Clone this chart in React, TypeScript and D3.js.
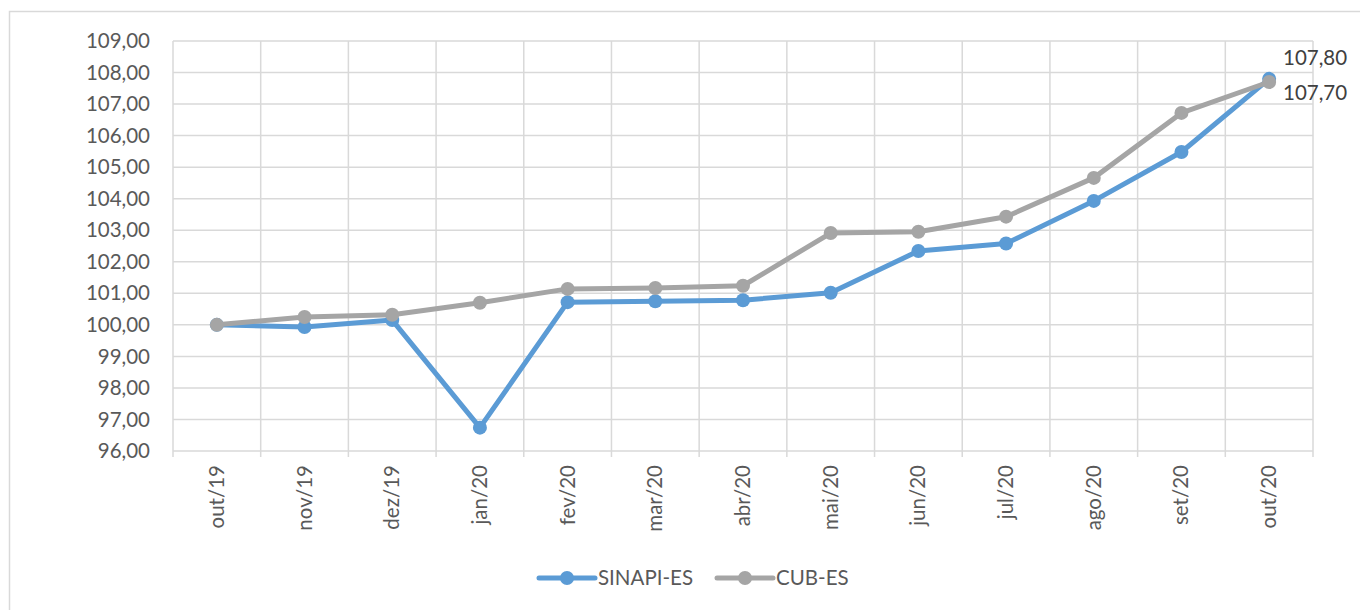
import React from "react";
import * as d3 from "d3";

const categories = ["out/19","nov/19","dez/19","jan/20","fev/20","mar/20","abr/20","mai/20","jun/20","jul/20","ago/20","set/20","out/20"];
const sinapi = [100.0, 99.93, 100.15, 96.74, 100.72, 100.75, 100.78, 101.02, 102.34, 102.58, 103.93, 105.48, 107.8];
const cub = [100.0, 100.25, 100.32, 100.7, 101.14, 101.17, 101.24, 102.91, 102.95, 103.43, 104.66, 106.72, 107.7];
const yTicks = [96,97,98,99,100,101,102,103,104,105,106,107,108,109];
const seriesNames = ["SINAPI-ES", "CUB-ES"];
const colors = ["#5B9BD5", "#A5A5A5"];

const W = 1360, H = 610;
const left = 173, right = 1313, top = 41, bottom = 451;
const font = "Lato, 'Open Sans', sans-serif";
const fmt = (v: number) => v.toFixed(2).replace(".", ",");

export default function App() {
  const x = d3.scaleBand<string>().domain(categories).range([left, right]);
  const y = d3.scaleLinear().domain([96, 109]).range([bottom, top]);
  const cx = (c: string) => (x(c) as number) + x.bandwidth() / 2;
  const line = d3.line<number>().x((_, i) => cx(categories[i])).y(v => y(v));
  const series = [sinapi, cub];
  const boundaries = d3.range(categories.length + 1).map(i => left + i * x.bandwidth());
  return (
    <svg width={W} height={H} style={{ position: "absolute", left: 0, top: 0, background: "#fff" }}>
      <rect x={9.5} y={11.5} width={1400} height={700} fill="#fff" stroke="#D9D9D9" strokeWidth={1.5} />
      {yTicks.map(t => (
        <line key={"h" + t} x1={left} x2={right} y1={y(t)} y2={y(t)} stroke="#D9D9D9" strokeWidth={1.5} />
      ))}
      {boundaries.map((bx, i) => (
        <line key={"v" + i} x1={bx} x2={bx} y1={top} y2={bottom + 6} stroke="#D9D9D9" strokeWidth={1.5} />
      ))}
      {yTicks.map(t => (
        <text key={"yl" + t} x={150} y={y(t)} dy="0.35em" textAnchor="end" fontFamily={font} fontSize={20.5} fill="#595959">{fmt(t)}</text>
      ))}
      {categories.map(c => (
        <text key={"xl" + c} transform={`translate(${cx(c) + 7},465) rotate(-90)`} textAnchor="end" fontFamily={font} fontSize={20.5} fill="#595959">{c}</text>
      ))}
      {series.map((s, si) => (
        <g key={"s" + si}>
          <path d={line(s) as string} fill="none" stroke={colors[si]} strokeWidth={5} strokeLinejoin="round" strokeLinecap="round" />
          {s.map((v, i) => (
            <circle key={i} cx={cx(categories[i])} cy={y(v)} r={7} fill={colors[si]} />
          ))}
        </g>
      ))}
      <text x={1283} y={57.5} dy="0.35em" fontFamily={font} fontSize={20.5} fill="#404040">{fmt(sinapi[sinapi.length - 1])}</text>
      <text x={1283} y={93} dy="0.35em" fontFamily={font} fontSize={20.5} fill="#404040">{fmt(cub[cub.length - 1])}</text>
      {seriesNames.map((n, i) => {
        const lx = i === 0 ? 539 : 717;
        return (
          <g key={"lg" + i}>
            <line x1={lx} x2={lx + 56} y1={578} y2={578} stroke={colors[i]} strokeWidth={5} strokeLinecap="round" />
            <circle cx={lx + 28} cy={578} r={7} fill={colors[i]} />
            <text x={lx + 59} y={578} dy="0.35em" fontFamily={font} fontSize={20.5} fill="#595959">{n}</text>
          </g>
        );
      })}
    </svg>
  );
}
